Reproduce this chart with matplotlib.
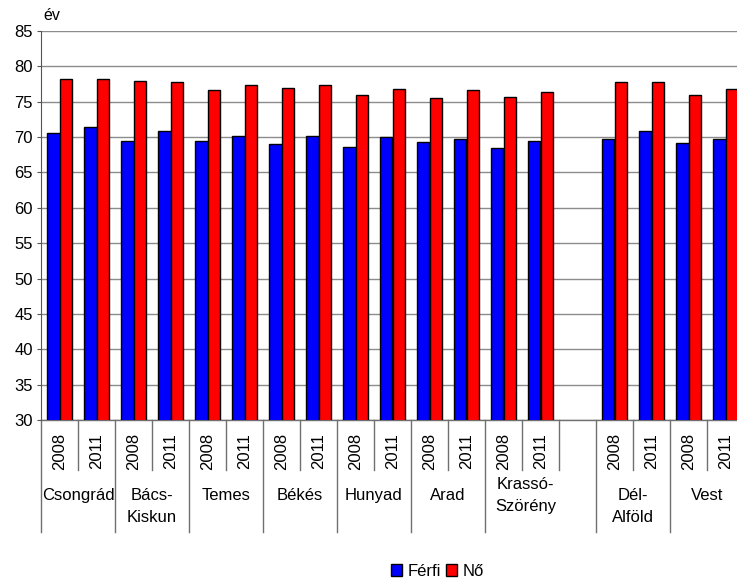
import matplotlib

matplotlib.use("Agg")
import matplotlib.pyplot as plt
import matplotlib.transforms as mtransforms
import numpy as np

plt.rcParams["font.family"] = ["Liberation Sans", "DejaVu Sans"]

# one slot per bar pair; the empty slot after Krassó-Szörény separates the regions
years = ["2008", "2011", "2008", "2011", "2008", "2011", "2008", "2011",
         "2008", "2011", "2008", "2011", "2008", "2011", "",
         "2008", "2011", "2008", "2011"]
men = [70.6, 71.4, 69.5, 70.9, 69.5, 70.2, 69.0, 70.2,
       68.6, 70.0, 69.3, 69.8, 68.4, 69.5, np.nan,
       69.8, 70.9, 69.1, 69.8]
women = [78.2, 78.2, 78.0, 77.8, 76.6, 77.3, 77.0, 77.3,
         75.9, 76.8, 75.5, 76.6, 75.7, 76.4, np.nan,
         77.8, 77.8, 75.9, 76.8]
groups = ["Csongrád", "Bács-\nKiskun", "Temes", "Békés", "Hunyad", "Arad",
          "Krassó-\nSzörény", "Dél-\nAlföld", "Vest"]
group_slots = [(0, 2), (2, 4), (4, 6), (6, 8), (8, 10), (10, 12), (12, 15), (15, 17), (17, 19)]

W, H = 737, 580
fig = plt.figure(figsize=(W / 100, H / 100), dpi=100)
ax = fig.add_axes([41 / W, 160 / H, 703 / W, 389 / H])

x = np.arange(len(years))
bw = 0.35
ax.bar(x - bw / 2, men, bw, color="#0000ff", edgecolor="black", linewidth=1, label="Férfi", zorder=3)
ax.bar(x + bw / 2, women, bw, color="#ff0000", edgecolor="black", linewidth=1, label="Nő", zorder=3)

ax.set_xlim(-0.5, len(years) - 0.5)
ax.set_ylim(30, 85)
ax.set_yticks(np.arange(30, 86, 5))
ax.yaxis.grid(True, color="#8c8c8c", linewidth=1)
ax.set_axisbelow(True)
for side in ("top", "right", "bottom"):
    ax.spines[side].set_visible(False)
ax.spines["left"].set_color("#555555")
ax.tick_params(axis="y", labelsize=12, length=3, pad=3, color="#555555")
ax.set_xticks([])

trans = mtransforms.blended_transform_factory(ax.transData, ax.transAxes)
line_kw = dict(transform=trans, clip_on=False, color="#707070", linewidth=1)

ax.plot([-0.5, len(years) - 0.5], [0, 0], **line_kw)
for i, yr in enumerate(years):
    if yr:
        ax.text(i, -13 / 389, yr, rotation=90, ha="center", va="top", fontsize=12, transform=trans)

starts = {s for s, _ in group_slots}
for k in range(len(years)):
    b = k - 0.5
    ax.plot([b, b], [0, (-112 if k in starts else -50) / 389], **line_kw)
ax.plot([len(years) - 0.5] * 2, [0, -112 / 389], **line_kw)

for name, (s, e) in zip(groups, group_slots):
    cx = (s + e - 1) / 2
    y = -68 / 389
    if name.startswith("Krassó"):
        cx = 12.6
        y = -57 / 389
    ax.text(cx, y, name, ha="center", va="top", fontsize=12, linespacing=1.55, transform=trans)

fig.text(43 / W, 1 - 15 / H, "év", ha="left", va="center", fontsize=11.5)

fig.legend(loc="center", bbox_to_anchor=(437 / W, 1 - 571 / H), ncol=2, frameon=False,
           handlelength=0.7, handleheight=0.7, handletextpad=0.3, columnspacing=0.3,
           fontsize=12)

fig.savefig("out.png", dpi=100)
